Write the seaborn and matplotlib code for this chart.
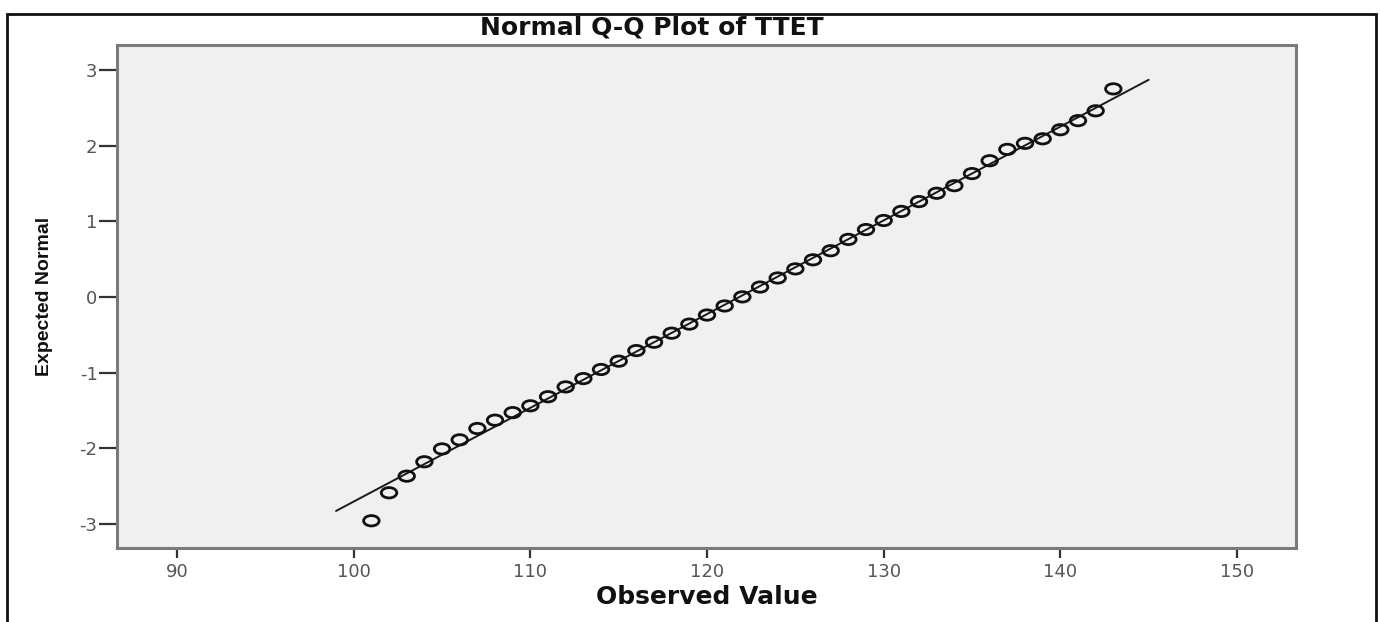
import numpy as np
import pandas as pd
import seaborn as sns
import matplotlib.pyplot as plt
from matplotlib.path import Path
from matplotlib.transforms import Affine2D
from matplotlib.patches import Rectangle

# --- data ---
observed = list(range(101, 144))
expected = [-2.96, -2.59, -2.37, -2.18, -2.01, -1.89, -1.74, -1.63, -1.53, -1.44,
            -1.32, -1.19, -1.08, -0.96, -0.85, -0.71, -0.60, -0.48, -0.36, -0.24,
            -0.12, 0.00, 0.13, 0.25, 0.37, 0.49, 0.61, 0.76, 0.89, 1.01,
            1.13, 1.26, 1.37, 1.47, 1.63, 1.80, 1.95, 2.03, 2.09, 2.21,
            2.33, 2.46, 2.75]
line_x = [99, 145]
line_y = [-2.83, 2.87]
x_ticks = [90, 100, 110, 120, 130, 140, 150]
y_ticks = [-3, -2, -1, 0, 1, 2, 3]

df = pd.DataFrame({'Observed Value': observed, 'Expected Normal': expected})
ref = pd.DataFrame({'x': line_x, 'y': line_y})

sns.set_style('white')
plt.rcParams['font.family'] = ['DejaVu Sans']
plt.rcParams['axes.unicode_minus'] = False

fig = plt.figure(figsize=(13.81, 6.22), dpi=100)
ax = fig.add_axes([117/1381, 74/622, 1179/1381, 503/622])
ax.set_facecolor('#f0f0f0')

# SPSS image is stretched sideways, so circles come out as flat ellipses
ellipse = Path.unit_circle().transformed(Affine2D().scale(1.5, 1.0))

sns.lineplot(data=ref, x='x', y='y', color='#1a1a1a', linewidth=1.4, ax=ax, zorder=2)
sns.scatterplot(data=df, x='Observed Value', y='Expected Normal', marker=ellipse,
                s=125, facecolor='none', edgecolor='#111111', linewidth=2.0,
                ax=ax, zorder=3)

ax.set_xlim(86.6, 153.34)
ax.set_ylim(-3.32, 3.33)
ax.set_xticks(x_ticks)
ax.set_yticks(y_ticks)
ax.tick_params(axis='x', bottom=True, length=7, width=1.6, color='#333333', pad=4,
               labelsize=13, labelcolor='#555555')
ax.tick_params(axis='y', left=True, length=13, width=1.6, color='#333333', pad=1,
               labelsize=13, labelcolor='#555555')
for sp in ax.spines.values():
    sp.set_color('#7a7a7a')
    sp.set_linewidth(2.2)

ax.set_xlabel('Observed Value', fontsize=18, fontweight='bold', color='#111111')
ax.set_ylabel('Expected Normal', fontsize=14, fontweight='bold', color='#111111',
              family=['Liberation Sans', 'DejaVu Sans'])
ax.xaxis.set_label_coords(0.5, -0.074)
ax.yaxis.set_label_coords(-0.054, 0.5)

fig.text(652/1381, 1 - 28/622, 'Normal Q-Q Plot of TTET', ha='center', va='center',
         fontsize=18, fontweight='bold', color='#111111')

# outer chart border
fig.patches.append(Rectangle((7/1381, -0.02), 1369/1381, 1 - 14/622 + 0.02,
                             transform=fig.transFigure, fill=False,
                             edgecolor='#111111', linewidth=2))

fig.savefig('out.png', dpi=100)
